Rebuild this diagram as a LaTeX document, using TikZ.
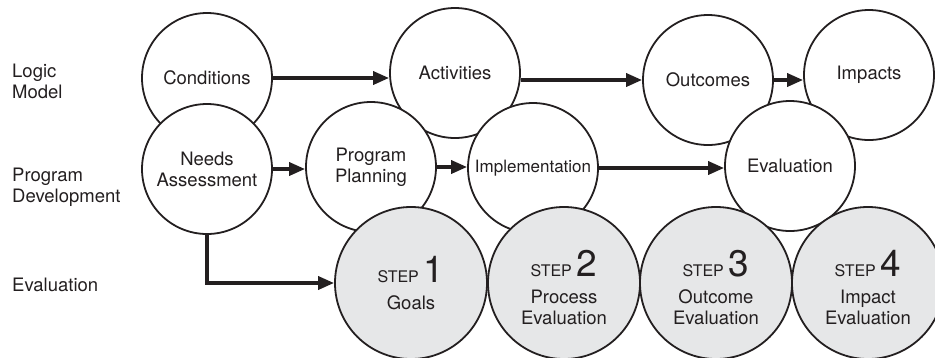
\documentclass[tikz,border=0pt]{standalone}
\usepackage{fontspec}
\setmainfont{TeX Gyre Heros}
\usetikzlibrary{arrows.meta}
\definecolor{ink}{HTML}{231F20}
\definecolor{stepgray}{HTML}{E6E7E8}
\newcommand{\steptag}[1]{{\fontsize{16}{16}\selectfont STEP}\hspace{5pt}{\fontsize{37}{37}\selectfont #1}}

\begin{document}
\begin{tikzpicture}[x=1pt,y=-1pt,
  every node/.style={text=ink,font=\fontsize{18.5}{21}\selectfont},
  bubble/.style={circle,draw=ink,line width=1.8pt,fill=white,
    minimum size=130pt,inner sep=0pt,align=center},
  stepbubble/.style={bubble,fill=stepgray,minimum size=152pt},
  rowlabel/.style={anchor=west,align=left,inner sep=0pt},
  flow/.style={draw=ink,line width=3.5pt,-{Triangle[length=16pt,width=13pt]}}]
  \useasboundingbox (0,0) rectangle (935,357);

  % row labels
  \node[rowlabel] (lm) at (12,81) {Logic\\Model};
  \node[rowlabel] (pd) at (12,187) {Program\\Development};
  \node[rowlabel] (ev) at (12,285) {Evaluation};

  % logic model
  \node[bubble] (cond) at (207,78) {Conditions};
  \node[bubble] (act) at (455,73) {Activities};
  \node[bubble] (outc) at (708,80) {Outcomes};
  \node[bubble] (imp) at (869,75) {Impacts};

  % program development
  \node[bubble] (needs) at (207,169) {Needs\\Assessment};
  \node[bubble] (plan) at (371,167) {Program\\Planning};
  \node[bubble,font=\fontsize{17}{21}\selectfont] (impl) at (533,168) {Implementation};
  \node[bubble] (evalu) at (790,166) {Evaluation};

  % evaluation steps
  \node[stepbubble] (s1) at (411,283) {\steptag{1}\\[6pt]Goals};
  \path (s1) ++(153,0) node[stepbubble] (s2) {\rule{0pt}{36pt}\steptag{2}\\[6pt]Process\\Evaluation};
  \path (s2) ++(152,0) node[stepbubble] (s3) {\rule{0pt}{36pt}\steptag{3}\\[6pt]Outcome\\Evaluation};
  \path (s3) ++(152,0) node[stepbubble] (s4) {\rule{0pt}{36pt}\steptag{4}\\[6pt]Impact\\Evaluation};

  \draw[flow] (cond.east) -- (cond.east -| act.west);
  \draw[flow] (act.east |- outc.west) -- (outc.west);
  \draw[flow] (outc.east) -- (outc.east -| imp.west);
  \draw[flow] (needs.east) -- (needs.east -| plan.west);
  \draw[flow] (plan.east) -- (plan.east -| impl.west);
  \draw[flow] (impl.east) -- (impl.east -| evalu.west);
  \draw[flow] (needs.south) |- (s1.west);
\end{tikzpicture}
\end{document}
